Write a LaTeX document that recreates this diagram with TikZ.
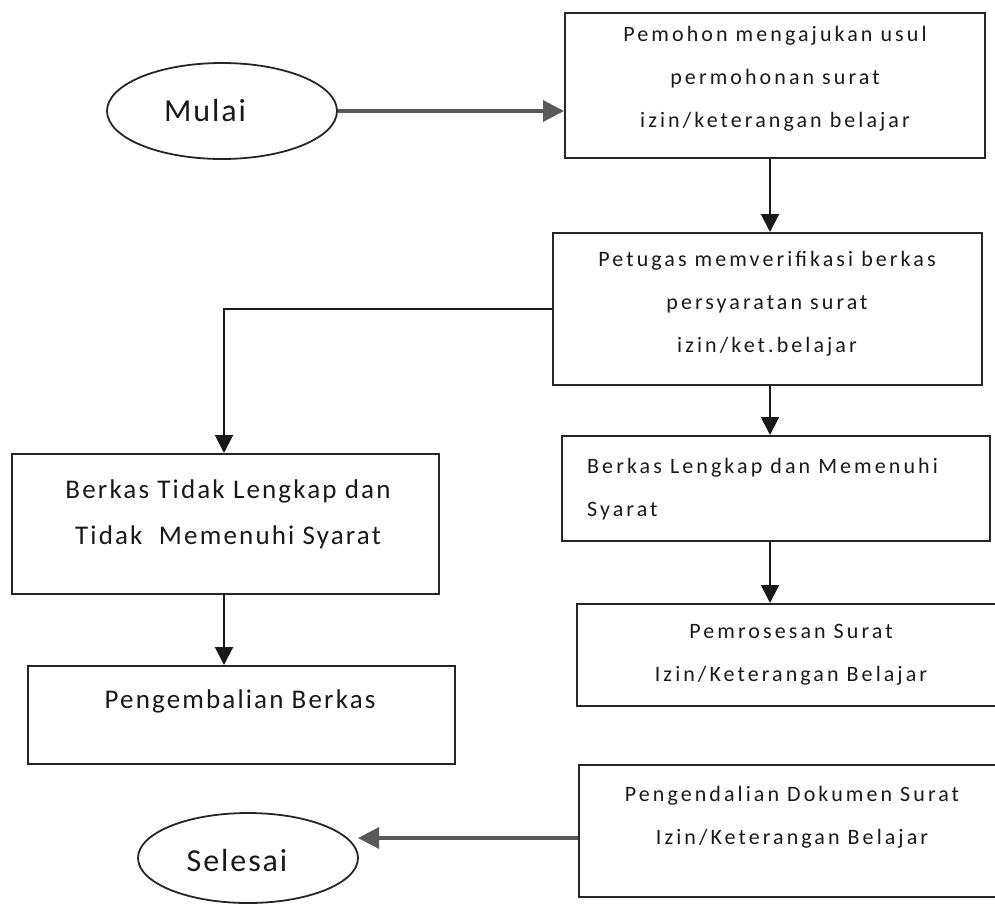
\documentclass[tikz,border=0pt]{standalone}
\usepackage{fontspec}
\setmainfont{Carlito}
\newfontfamily\fa[LetterSpace=14]{Carlito}
\newfontfamily\fb[LetterSpace=8]{Carlito}
\newfontfamily\fc[LetterSpace=6]{Carlito}
\usetikzlibrary{arrows.meta,shapes.geometric}
\begin{document}
\begin{tikzpicture}[x=1pt,y=-1pt,
  boxnode/.style={draw=black!85, line width=2pt, rectangle, inner sep=0pt},
  ovalnode/.style={draw=black!85, line width=1.8pt, ellipse, inner sep=0pt},
  txtr/.style={font=\fontsize{22}{43}\fa, align=center, inner sep=0pt, text=black!90},
  txtl/.style={font=\fontsize{27}{46}\fb, align=center, inner sep=0pt, text=black!90},
  txto/.style={font=\fontsize{32}{38}\fc, inner sep=0pt, text=black!90},
  conn/.style={draw=black!90, line width=2pt, -{Triangle[length=18pt,width=18pt]}},
  thickconn/.style={draw=black!65, line width=3.2pt, -{Triangle[length=21pt,width=21pt]}}
]
\useasboundingbox (0,0) rectangle (995,905);

% shapes
\node[ovalnode, minimum width=230pt, minimum height=96pt] (mulai) at (222,111) {};
\node[txto] (mulaitxt) at (205,111) {Mulai};

\node[boxnode, minimum width=420pt, minimum height=145pt] (box1) at (775,85.5) {};
\node[txtr] (box1txt) at (775,79) {Pemohon mengajukan usul\\permohonan surat\\izin/keterangan belajar};

\node[boxnode, minimum width=429pt, minimum height=152pt] (box2) at (767.5,309) {};
\node[txtr] (box2txt) at (767,304) {Petugas memverifikasi berkas\\persyaratan surat\\izin/ket.belajar};

\node[boxnode, minimum width=427pt, minimum height=140pt] (tidak) at (225.5,524) {};
\node[txtl] (tidaktxt) at (228,514) {Berkas Tidak Lengkap dan\\Tidak\ \ Memenuhi Syarat};

\node[boxnode, minimum width=427pt, minimum height=98pt] (kembali) at (241.5,715) {};
\node[txtl] (kembalitxt) at (240,701) {Pengembalian Berkas};

\node[boxnode, minimum width=428pt, minimum height=105pt] (lengkap) at (776,488.5) {};
\node[txtr, align=left, anchor=west] (lengkaptxt) at (587,489) {Berkas Lengkap dan Memenuhi\\Syarat};

\node[boxnode, minimum width=428pt, minimum height=102pt] (proses) at (791,655) {};
\node[txtr] (prosestxt) at (791,655) {Pemrosesan Surat\\Izin/Keterangan Belajar};

\node[boxnode, minimum width=426pt, minimum height=132pt] (kendali) at (792,831) {};
\node[txtr] (kendalitxt) at (792,817) {Pengendalian Dokumen Surat\\Izin/Keterangan Belajar};

\node[ovalnode, minimum width=220pt, minimum height=90pt] (selesai) at (248,858) {};
\node[txto] (selesaitxt) at (237,860) {Selesai};

% connectors
\coordinate (cx) at (770,0);
\coordinate (lx) at (224,0);
\coordinate (stip) at (358,838);
\draw[thickconn] (mulai.east) -- (mulai.east -| box1.west);
\draw[conn] (box1.south -| cx) -- (box2.north -| cx);
\draw[conn] (box2.south -| cx) -- (lengkap.north -| cx);
\draw[conn] (lengkap.south -| cx) -- (proses.north -| cx);
\draw[conn] (box2.west) -| (tidak.north -| lx);
\draw[conn] (tidak.south -| lx) -- (kembali.north -| lx);
\draw[thickconn] (kendali.west |- stip) -- (stip);
\end{tikzpicture}
\end{document}
